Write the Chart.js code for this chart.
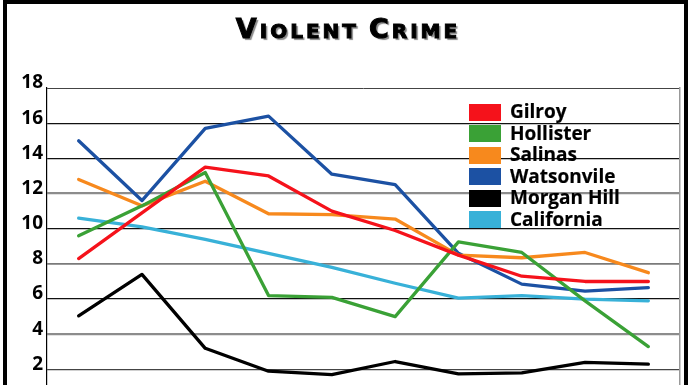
<!DOCTYPE html>
<html>
<head>
<meta charset="utf-8">
<script src="https://cdn.jsdelivr.net/npm/chart.js@4.4.1/dist/chart.umd.min.js"></script>
<style>
  html, body { margin: 0; padding: 0; background: #fff; overflow: hidden; width: 696px; height: 385px; }
  #wrap { position: relative; width: 696px; height: 385px; overflow: hidden; background: #fff; }
  #c { position: absolute; left: 0; top: 0; }
  #frame { position: absolute; left: 3px; top: 0; width: 685px; height: 420px; border: 4px solid #000; box-sizing: border-box; pointer-events: none; }
  #title { position: absolute; left: 0; width: 696px; top: 9px; text-align: center;
           font-family: "DejaVu Sans", sans-serif; font-weight: bold; font-size: 20px;
           letter-spacing: 3px; color: #000; -webkit-text-stroke: 1px #000;
           text-shadow: 2px 2px 1px #8a8a8a; line-height: 40px; white-space: nowrap; }
  #title .cap { font-size: 27px; }
  #legend { position: absolute; left: 469px; top: 103px; }
  .row { position: relative; height: 21.5px; }
  .box { position: absolute; left: 0; top: 0.5px; width: 32px; height: 17px; }
  .lab { position: absolute; left: 41px; top: -4px; font-family: "Open Sans", sans-serif; font-weight: bold;
         font-size: 19px; line-height: 24px; color: #000; white-space: nowrap; -webkit-text-stroke: 0.2px #000; }
</style>
</head>
<body>
<div id="wrap">
  <canvas id="c" width="696" height="420"></canvas>
  <div id="frame"></div>
  <div id="title"><span class="cap">V</span>IOLENT <span class="cap">C</span>RIME</div>
  <div id="legend"></div>
</div>
<script>
const categories = ['1', '2', '3', '4', '5', '6', '7', '8', '9', '10'];
const seriesNames = ['Gilroy', 'Hollister', 'Salinas', 'Watsonvile', 'Morgan Hill', 'California'];
const gilroy     = [8.3, 10.9, 13.5, 13.0, 11.0, 9.9, 8.5, 7.3, 7.0, 7.0];
const hollister  = [9.6, 11.3, 13.2, 6.2, 6.1, 5.0, 9.25, 8.65, 5.9, 3.3];
const salinas    = [12.8, 11.3, 12.7, 10.85, 10.8, 10.55, 8.5, 8.35, 8.65, 7.5];
const watsonvile = [15.0, 11.6, 15.7, 16.4, 13.1, 12.5, 8.6, 6.85, 6.45, 6.65];
const morganHill = [5.05, 7.4, 3.2, 1.9, 1.7, 2.45, 1.75, 1.8, 2.4, 2.3];
const california = [10.6, 10.1, 9.4, 8.6, 7.8, 6.9, 6.05, 6.2, 6.0, 5.9];
const yTicks = [0, 2, 4, 6, 8, 10, 12, 14, 16, 18];

const seriesValues = [gilroy, hollister, salinas, watsonvile, morganHill, california];
const seriesColors = ['#f5121b', '#3aa136', '#f7891d', '#1c51a3', '#000000', '#38b1d8'];
const gridColors = {18: '#444', 16: '#111', 14: '#111', 12: '#8c8c8c', 10: '#111', 8: '#7a7a7a', 6: '#111', 4: '#8c8c8c', 2: '#444', 0: '#111'};
const gridWidths = {18: 1, 16: 1.3, 14: 1.3, 12: 2.2, 10: 1.3, 8: 1.8, 6: 1.3, 4: 2.2, 2: 1.2, 0: 1};

const datasets = seriesNames.map((name, i) => ({
  label: name,
  data: seriesValues[i],
  borderColor: seriesColors[i],
  backgroundColor: seriesColors[i],
  borderWidth: 3.3,
  pointRadius: 0,
  tension: 0,
  borderJoinStyle: 'round',
  borderCapStyle: 'round',
  fill: false
}));

new Chart(document.getElementById('c'), {
  type: 'line',
  data: { labels: categories, datasets },
  options: {
    responsive: false,
    animation: false,
    devicePixelRatio: 1,
    layout: { padding: { top: 88, bottom: 12.7, left: 0, right: 16 } },
    plugins: { legend: { display: false }, title: { display: false }, tooltip: { enabled: false } },
    scales: {
      x: { type: 'category', offset: true, display: false },
      y: {
        min: yTicks[0], max: yTicks[yTicks.length - 1],
        afterFit: (s) => { s.width = 47; },
        afterBuildTicks: (s) => { s.ticks = yTicks.map(v => ({ value: v })); },
        ticks: { stepSize: 2, padding: 4, labelOffset: -5, color: '#000',
                 font: { family: 'Open Sans', weight: 'bold', size: 19 } },
        grid: { drawTicks: false,
                color: (ctx) => gridColors[ctx.tick.value] || '#111',
                lineWidth: (ctx) => gridWidths[ctx.tick.value] || 1 },
        border: { display: true, color: '#000', width: 1.2 }
      },
      y2: {
        position: 'right', min: 0, max: 18,
        afterFit: (s) => { s.width = 0; },
        ticks: { display: false },
        grid: { display: false, drawTicks: false },
        border: { display: true, color: '#999', width: 1.5 }
      }
    }
  }
});

const legend = document.getElementById('legend');
seriesNames.forEach((name, i) => {
  const row = document.createElement('div'); row.className = 'row';
  const box = document.createElement('div'); box.className = 'box'; box.style.background = seriesColors[i];
  const lab = document.createElement('div'); lab.className = 'lab'; lab.textContent = name;
  row.appendChild(box); row.appendChild(lab); legend.appendChild(row);
});
</script>
</body>
</html>
